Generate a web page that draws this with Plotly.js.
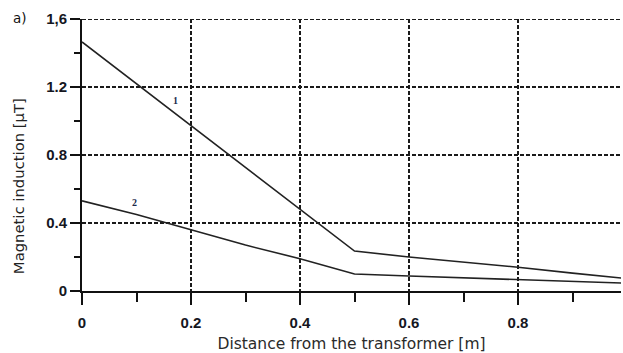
<!DOCTYPE html>
<html>
<head>
<meta charset="utf-8">
<script src="https://cdn.plot.ly/plotly-3.0.1.min.js"></script>
<style>html,body{margin:0;padding:0;background:#fff;}#chart{width:623px;height:353px;}</style>
</head>
<body>
<div id="chart"></div>
<script>
// Data
const distance1 = [0, 0.5, 0.6, 0.7, 0.8, 0.9, 0.99];
const induction1 = [1.465, 0.235, 0.20, 0.17, 0.14, 0.105, 0.076];
const distance2 = [0, 0.1, 0.2, 0.3, 0.4, 0.5, 0.6, 0.8, 0.99];
const induction2 = [0.53, 0.45, 0.36, 0.27, 0.19, 0.10, 0.088, 0.065, 0.047];
const xTickVals = [0, 0.2, 0.4, 0.6, 0.8];
const xTickText = ["0", "0.2", "0.4", "0.6", "0.8"];
const yTickVals = [0, 0.4, 0.8, 1.2, 1.6];
const yTickText = ["0", "0.4", "0.8", "1.2", "1,6"];
const seriesLabels = ["1", "2"];
const labelPos = [[0.172, 1.12], [0.097, 0.52]];
const yMax = 1.6;

const lineStyle = {color: "#222", width: 1.6};
const traces = [
  {x: distance1, y: induction1, mode: "lines", line: lineStyle, hoverinfo: "skip"},
  {x: distance2, y: induction2, mode: "lines", line: lineStyle, hoverinfo: "skip"}
];

const bold = arr => arr.map(t => "<b>" + t + "</b>");
const tickFont = {family: "Liberation Sans, Arial, sans-serif", size: 15, color: "#15171f"};
const gridDash = "4px,2px";
const annotations = seriesLabels.map((t, i) => ({
  x: labelPos[i][0], y: labelPos[i][1], xref: "x", yref: "y", text: "<b>" + t + "</b>",
  xanchor: "center", yanchor: "middle",
  showarrow: false, font: {family: "Liberation Serif, serif", size: 10, color: "#1c2a4a"}
}));
annotations.push({
  x: -0.115, y: 1.005, xref: "paper", yref: "paper", text: "a)", showarrow: false,
  xanchor: "center", yanchor: "middle",
  font: {family: "DejaVu Sans, sans-serif", size: 13.5, color: "#111"}
});
annotations.push({
  x: -0.119, y: 0.385, xref: "paper", yref: "paper", text: "Magnetic induction [µT]",
  textangle: -90, showarrow: false, xanchor: "center", yanchor: "middle",
  font: {family: "DejaVu Sans, Verdana, sans-serif", size: 14.8, color: "#222"}
});

const layout = {
  width: 623, height: 353,
  margin: {l: 82, r: 2, t: 19, b: 62},
  paper_bgcolor: "#fff", plot_bgcolor: "#fff",
  showlegend: false,
  xaxis: {
    range: [0, 0.989], tickmode: "array", tickvals: xTickVals, ticktext: bold(xTickText),
    tickfont: tickFont, ticks: "outside", ticklen: 12, tickwidth: 2, tickcolor: "#111",
    ticklabelstandoff: 5,
    showline: true, linecolor: "#111", linewidth: 2,
    showgrid: true, gridcolor: "#1a1a1a", gridwidth: 1.5, griddash: gridDash,
    zeroline: false,
    minor: {tickvals: [0.1, 0.3, 0.5, 0.7, 0.9], ticks: "outside", ticklen: 9, tickwidth: 2, tickcolor: "#111", showgrid: false},
    title: {text: "Distance from the transformer [m]", standoff: 8,
      font: {family: "DejaVu Sans, Verdana, sans-serif", size: 15.5, color: "#2a2a2a"}},
    fixedrange: true
  },
  yaxis: {
    range: [0, yMax], tickmode: "array", tickvals: yTickVals, ticktext: bold(yTickText),
    tickfont: tickFont, ticks: "outside", ticklen: 10, tickwidth: 2, tickcolor: "#111",
    showline: true, linecolor: "#111", linewidth: 2,
    showgrid: true, gridcolor: "#1a1a1a", gridwidth: 1.5, griddash: gridDash,
    zeroline: false,
    minor: {tickvals: [0.2, 0.6, 1.0, 1.4], ticks: "outside", ticklen: 6, tickwidth: 2, tickcolor: "#111", showgrid: false},
    fixedrange: true
  },
  shapes: [{
    type: "line", xref: "paper", yref: "y", x0: 0, x1: 1, y0: yMax, y1: yMax,
    line: {color: "#1a1a1a", width: 2, dash: gridDash}, layer: "below"
  }],
  annotations: annotations
};

Plotly.newPlot("chart", traces, layout, {staticPlot: true, displayModeBar: false});
</script>
</body>
</html>
